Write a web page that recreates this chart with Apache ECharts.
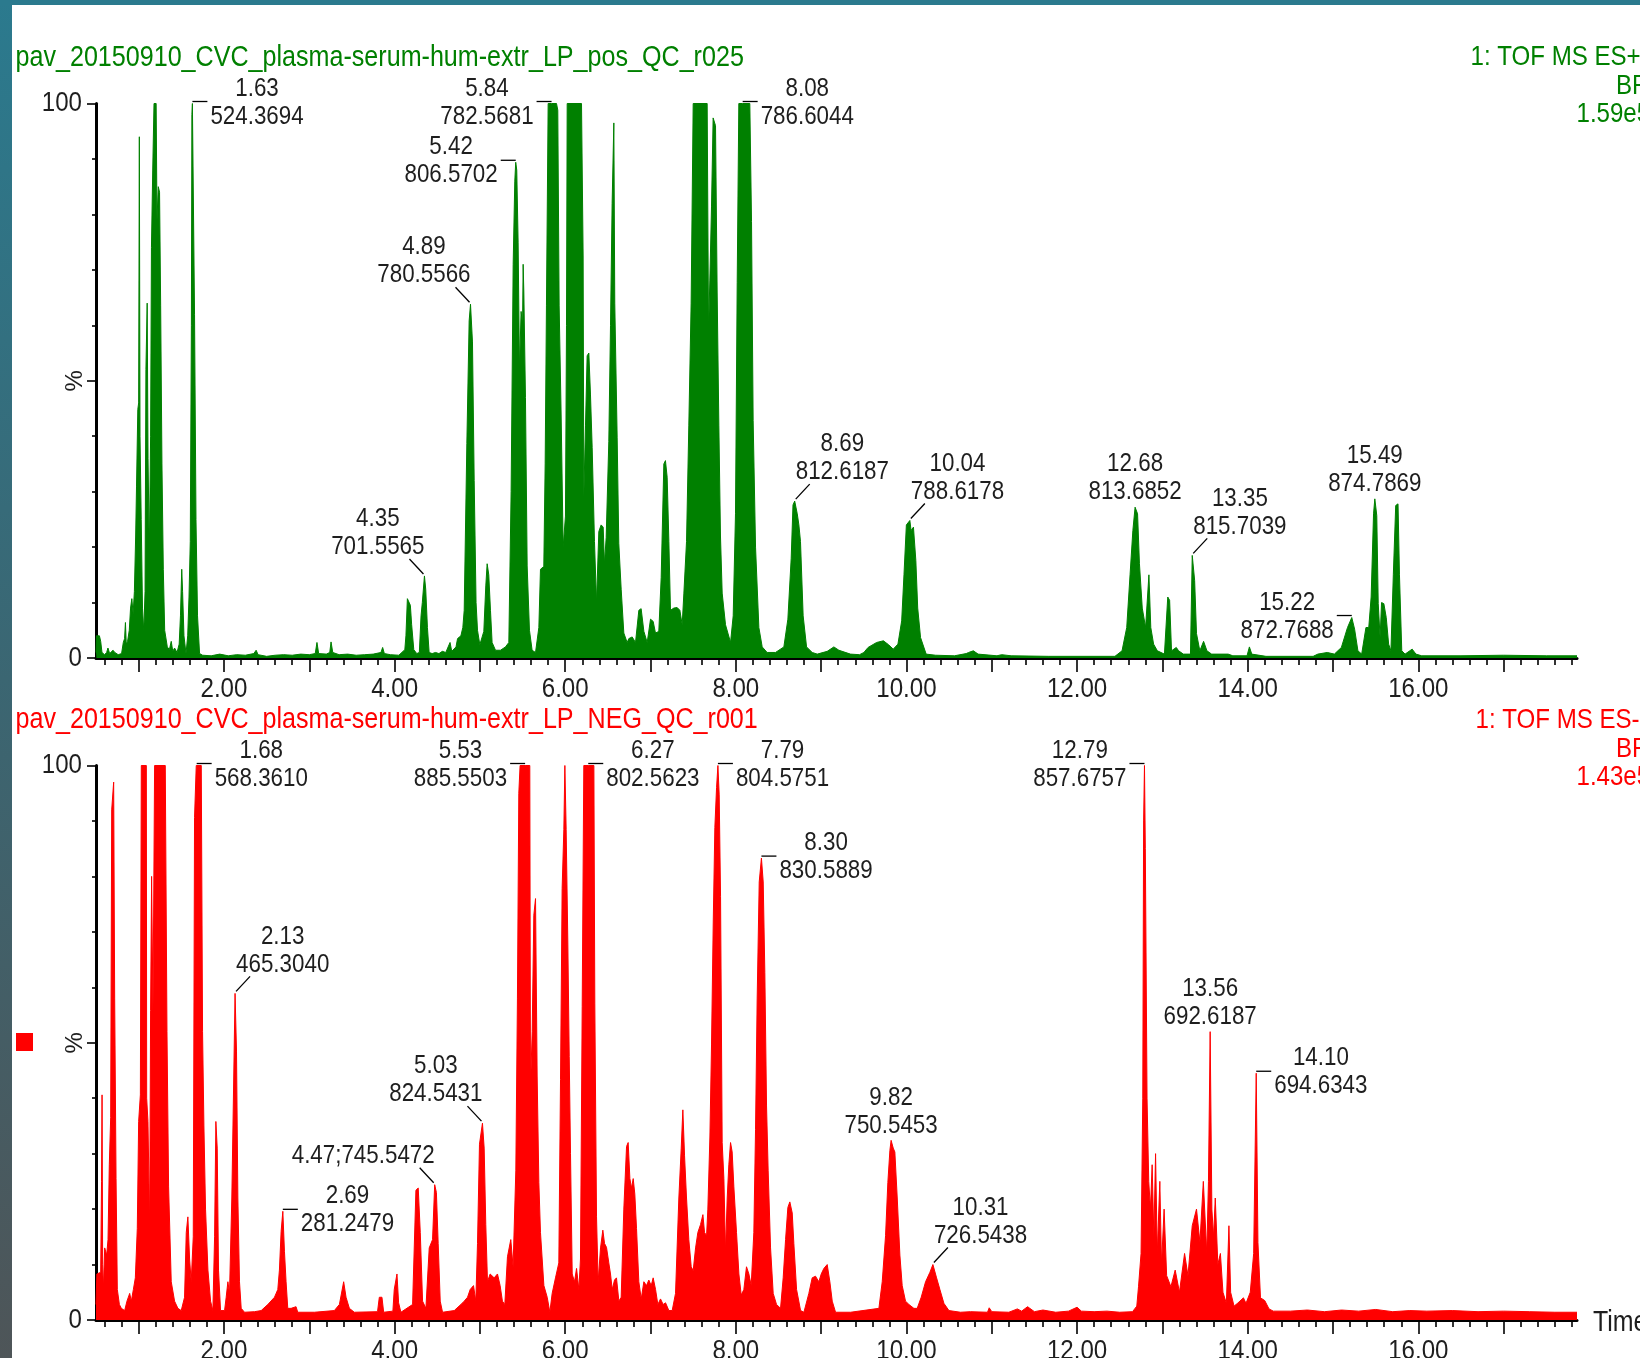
<!DOCTYPE html>
<html>
<head>
<meta charset="utf-8">
<script src="https://cdn.jsdelivr.net/npm/echarts@6/dist/echarts.min.js"></script>
<style>
  html, body { margin: 0; padding: 0; background: #fff; }
  #chart { width: 1640px; height: 1358px; }
</style>
</head>
<body>
<div id="chart"></div>
<script>
// ---- chromatogram data (retention time in min, relative intensity in %) ----
const posTitle = 'pav_20150910_CVC_plasma-serum-hum-extr_LP_pos_QC_r025';
const negTitle = 'pav_20150910_CVC_plasma-serum-hum-extr_LP_NEG_QC_r001';
const posHeader = ['1: TOF MS ES+', 'BPI', '1.59e5'];
const negHeader = ['1: TOF MS ES-', 'BPI', '1.43e5'];

const timeLabels = [2, 4, 6, 8, 10, 12, 14, 16];
const majorTicks = [1, 2, 3, 4, 5, 6, 7, 8, 9, 10, 11, 12, 13, 14, 15, 16, 17];
const intensityLabels = [0, 100];

const posTrace = [
  [0.50,1.0],[0.505,4.0],[0.54,4.0],[0.555,3.0],[0.57,1.0],[0.60,0.6],[0.625,1.0],[0.64,1.8],[0.66,0.8],[0.70,1.4],
  [0.72,1.0],[0.76,0.6],[0.80,0.8],[0.82,2.8],[0.835,3.5],[0.845,6.4],[0.855,2.5],[0.87,3.0],[0.89,5.0],[0.905,9.0],
  [0.92,10.7],[0.935,8.0],[0.95,12.0],[0.965,22.0],[0.975,31.0],[0.99,44.8],[1.0,46.0],[1.008,94.0],[1.016,40.0],[1.03,25.0],
  [1.045,9.0],[1.06,4.8],[1.075,12.0],[1.085,52.0],[1.10,64.0],[1.11,36.0],[1.125,19.0],[1.14,40.0],[1.15,74.0],[1.165,88.0],
  [1.18,100],[1.205,100],[1.215,79.0],[1.23,85.0],[1.245,84.0],[1.258,63.5],[1.273,35.0],[1.289,16.0],[1.305,5.0],[1.336,2.0],
  [1.36,1.5],[1.382,3.0],[1.40,1.2],[1.421,1.8],[1.45,1.0],[1.475,2.5],[1.49,7.6],[1.505,16.0],[1.515,12.0],[1.531,4.0],
  [1.555,0.8],[1.575,4.0],[1.59,11.0],[1.605,21.0],[1.618,60.0],[1.624,98.0],[1.63,100],[1.645,100],[1.655,62.0],[1.672,25.0],
  [1.69,7.6],[1.714,0.8],[1.75,0.5],[1.85,0.4],[1.95,0.7],[2.05,0.4],[2.15,0.6],[2.25,0.5],[2.35,0.8],[2.377,1.4],
  [2.40,0.6],[2.50,0.3],[2.60,0.5],[2.70,0.6],[2.80,0.5],[2.90,0.7],[3.00,0.6],[3.07,0.8],[3.09,2.8],[3.11,0.8],
  [3.20,0.7],[3.24,1.0],[3.255,2.9],[3.275,1.0],[3.35,0.6],[3.45,0.7],[3.55,0.5],[3.65,0.6],[3.75,0.7],[3.84,1.0],
  [3.86,1.9],[3.88,0.8],[3.95,0.6],[4.05,0.5],[4.12,1.5],[4.133,4.0],[4.15,10.7],[4.164,10.5],[4.185,9.5],[4.20,6.0],
  [4.225,1.5],[4.26,0.8],[4.29,1.0],[4.31,7.6],[4.325,10.0],[4.35,14.8],[4.365,12.4],[4.385,5.5],[4.405,1.0],[4.44,0.8],
  [4.48,1.0],[4.52,0.8],[4.56,1.2],[4.60,1.0],[4.65,2.8],[4.67,1.2],[4.72,2.0],[4.738,3.5],[4.777,4.0],[4.80,5.5],
  [4.816,8.6],[4.847,38.7],[4.874,60.8],[4.89,63.8],[4.913,57.0],[4.933,32.0],[4.955,10.0],[4.972,5.0],[4.999,2.4],[5.046,4.8],
  [5.069,13.0],[5.085,17.0],[5.104,15.0],[5.124,8.6],[5.143,2.8],[5.183,1.4],[5.241,1.4],[5.30,2.0],[5.339,2.8],[5.366,30.0],
  [5.39,71.0],[5.409,86.0],[5.42,89.4],[5.432,88.0],[5.448,75.0],[5.464,52.0],[5.483,62.5],[5.50,60.0],[5.507,71.0],[5.515,66.0],
  [5.534,47.0],[5.554,16.6],[5.581,5.0],[5.612,1.4],[5.652,1.0],[5.691,5.5],[5.71,16.0],[5.749,16.5],[5.765,35.0],[5.78,63.5],
  [5.80,100],[5.84,100],[5.898,100],[5.913,98.8],[5.929,63.5],[5.952,44.0],[5.976,20.0],[6.003,25.6],[6.015,60.0],[6.023,100],
  [6.191,100],[6.21,72.5],[6.218,29.0],[6.238,42.0],[6.257,54.5],[6.277,55.0],[6.296,47.6],[6.316,38.0],[6.343,21.0],[6.367,10.0],
  [6.394,22.8],[6.421,24.0],[6.445,23.6],[6.46,17.0],[6.48,21.7],[6.511,39.0],[6.531,60.0],[6.55,82.0],[6.57,96.5],[6.581,64.0],
  [6.609,39.7],[6.628,20.7],[6.656,12.4],[6.687,4.5],[6.726,2.8],[6.746,3.5],[6.785,3.8],[6.824,2.8],[6.863,8.6],[6.89,8.9],
  [6.922,4.8],[6.961,2.8],[7.0,7.0],[7.031,6.6],[7.058,4.5],[7.097,4.8],[7.125,14.5],[7.156,35.0],[7.175,35.6],[7.195,32.6],
  [7.215,21.0],[7.234,8.6],[7.273,9.0],[7.312,9.1],[7.344,8.6],[7.371,6.0],[7.391,11.7],[7.422,21.0],[7.449,42.0],[7.476,64.0],
  [7.50,100],[7.664,100],[7.68,58.7],[7.695,68.0],[7.715,81.5],[7.734,97.4],[7.762,96.0],[7.781,66.0],[7.801,42.0],[7.82,22.0],
  [7.84,11.7],[7.879,6.0],[7.938,2.8],[7.969,7.6],[7.996,26.0],[8.016,67.7],[8.035,100],[8.08,100],[8.164,100],[8.184,78.7],
  [8.203,42.8],[8.231,20.0],[8.27,5.5],[8.309,2.0],[8.367,1.0],[8.465,1.0],[8.563,2.0],[8.61,7.0],[8.649,18.0],[8.67,27.6],
  [8.69,28.3],[8.72,26.0],[8.739,24.0],[8.758,21.0],[8.789,7.6],[8.829,2.0],[8.895,1.0],[8.954,0.7],[9.071,1.2],[9.149,2.0],
  [9.208,1.4],[9.344,0.7],[9.45,0.6],[9.501,1.0],[9.55,1.9],[9.65,2.8],[9.73,3.1],[9.79,2.4],[9.845,1.6],[9.90,2.5],
  [9.944,6.7],[9.971,15.0],[9.999,24.0],[10.04,24.8],[10.054,23.0],[10.082,23.6],[10.11,17.6],[10.132,9.0],[10.165,3.7],[10.231,0.7],
  [10.342,0.5],[10.563,0.4],[10.70,0.8],[10.729,1.0],[10.784,1.3],[10.84,0.7],[11.061,0.4],[11.116,0.6],[11.227,0.4],[11.669,0.3],
  [12.444,0.3],[12.527,1.3],[12.582,5.5],[12.621,15.0],[12.654,23.0],[12.68,27.2],[12.709,26.0],[12.731,17.0],[12.764,9.0],[12.803,5.5],
  [12.842,15.0],[12.864,5.5],[12.897,2.5],[12.941,1.3],[13.024,0.7],[13.063,11.0],[13.085,10.4],[13.107,1.3],[13.163,1.9],[13.19,1.3],
  [13.246,0.7],[13.329,0.7],[13.35,18.5],[13.378,14.0],[13.40,4.4],[13.439,1.3],[13.483,3.0],[13.522,1.3],[13.577,0.7],[13.771,0.7],
  [13.788,1.0],[13.826,0.4],[13.992,0.4],[14.02,2.0],[14.048,0.7],[14.214,0.3],[14.767,0.3],[14.822,0.7],[14.933,1.0],[15.016,0.7],
  [15.098,1.9],[15.17,5.5],[15.22,7.3],[15.253,5.2],[15.292,1.3],[15.336,0.7],[15.386,5.5],[15.419,5.5],[15.447,11.0],[15.475,26.0],
  [15.49,28.7],[15.513,25.7],[15.53,9.8],[15.552,3.7],[15.569,10.0],[15.596,9.8],[15.624,7.3],[15.652,2.5],[15.679,1.3],[15.707,15.0],
  [15.735,27.5],[15.762,27.8],[15.779,15.0],[15.806,1.3],[15.845,0.7],[15.90,1.3],[15.928,1.6],[15.972,0.7],[16.04,0.4],[16.5,0.4],
  [17.0,0.5],[17.5,0.4],[17.86,0.4]
];

const negTrace = [
  [0.50,2.8],[0.51,8.3],[0.555,8.6],[0.565,25.0],[0.571,40.6],[0.578,10.0],[0.586,5.5],[0.602,13.0],[0.625,11.7],[0.641,14.5],
  [0.656,28.0],[0.672,36.5],[0.684,92.0],[0.695,92.3],[0.707,97.0],[0.719,57.9],[0.735,25.5],[0.75,5.5],[0.774,2.8],[0.797,2.1],
  [0.836,1.7],[0.863,3.4],[0.895,4.8],[0.914,3.4],[0.938,5.5],[0.961,7.6],[0.984,16.5],[1.0,35.8],[1.02,40.6],[1.031,100],
  [1.09,100],[1.094,40.0],[1.109,35.8],[1.129,16.9],[1.14,55.8],[1.152,80.0],[1.168,55.8],[1.187,100],[1.312,100],[1.332,52.0],
  [1.351,24.0],[1.382,6.9],[1.421,3.4],[1.46,2.1],[1.499,1.7],[1.538,4.1],[1.558,15.8],[1.577,18.6],[1.597,11.0],[1.616,6.9],
  [1.64,15.0],[1.655,90.6],[1.675,100],[1.68,100],[1.734,100],[1.749,52.0],[1.765,35.0],[1.784,20.0],[1.812,9.0],[1.843,3.4],
  [1.87,1.7],[1.89,15.0],[1.905,35.8],[1.921,31.0],[1.936,9.0],[1.96,1.7],[2.007,1.7],[2.026,4.1],[2.046,6.9],[2.065,4.8],
  [2.092,22.0],[2.112,41.3],[2.13,58.9],[2.147,48.5],[2.163,22.0],[2.182,6.9],[2.202,2.1],[2.241,1.4],[2.358,1.5],[2.436,1.7],
  [2.514,2.8],[2.592,4.1],[2.631,5.5],[2.65,9.0],[2.67,16.0],[2.69,19.6],[2.709,12.4],[2.728,6.9],[2.748,2.1],[2.787,2.1],
  [2.845,2.4],[2.865,1.4],[3.06,1.4],[3.294,1.7],[3.353,2.8],[3.403,6.9],[3.431,4.1],[3.47,2.1],[3.528,1.4],[3.80,1.5],
  [3.821,4.1],[3.852,4.1],[3.872,1.4],[3.98,1.6],[3.996,5.5],[4.028,8.3],[4.047,3.1],[4.074,1.4],[4.211,2.8],[4.25,23.4],
  [4.277,23.8],[4.301,15.8],[4.328,3.4],[4.367,2.1],[4.406,13.0],[4.445,14.5],[4.47,24.4],[4.49,23.0],[4.511,13.8],[4.535,3.4],
  [4.562,1.4],[4.699,1.7],[4.777,2.8],[4.816,3.4],[4.855,4.1],[4.886,5.5],[4.925,6.2],[4.952,3.4],[4.972,13.8],[4.995,31.7],
  [5.03,35.5],[5.05,31.0],[5.069,17.2],[5.089,6.9],[5.12,8.3],[5.167,7.6],[5.206,8.3],[5.237,6.2],[5.264,3.4],[5.292,2.8],
  [5.323,11.4],[5.362,14.5],[5.389,9.6],[5.421,26.9],[5.44,57.9],[5.456,95.0],[5.471,100],[5.53,100],[5.585,100],[5.593,42.0],
  [5.613,52.0],[5.632,73.0],[5.652,76.0],[5.671,44.0],[5.691,24.8],[5.71,15.8],[5.73,11.0],[5.75,6.2],[5.789,4.1],[5.82,1.4],
  [5.847,4.8],[5.886,7.6],[5.925,10.3],[5.945,43.4],[5.964,77.8],[5.984,88.5],[5.996,100],[6.011,88.5],[6.031,67.8],[6.047,47.5],
  [6.062,30.0],[6.082,8.3],[6.109,6.9],[6.133,9.3],[6.16,5.5],[6.179,11.0],[6.199,56.5],[6.218,100],[6.27,100],[6.336,100],
  [6.347,57.0],[6.367,18.6],[6.386,6.9],[6.414,13.0],[6.441,16.2],[6.461,13.8],[6.484,13.1],[6.511,10.3],[6.531,8.3],[6.551,5.5],
  [6.578,7.2],[6.601,7.6],[6.629,3.4],[6.656,4.1],[6.687,20.0],[6.719,31.3],[6.738,32.0],[6.758,25.5],[6.777,23.8],[6.797,25.5],
  [6.816,22.7],[6.836,16.5],[6.863,6.9],[6.891,3.8],[6.922,6.9],[6.953,6.2],[6.98,7.2],[7.008,6.2],[7.031,7.6],[7.059,5.5],
  [7.086,2.8],[7.117,3.8],[7.148,2.8],[7.176,3.1],[7.215,1.7],[7.254,1.7],[7.293,4.8],[7.332,22.0],[7.36,31.0],[7.379,37.9],
  [7.399,29.6],[7.422,22.0],[7.449,14.5],[7.477,9.6],[7.50,8.9],[7.528,13.0],[7.555,15.8],[7.586,17.2],[7.614,19.0],[7.633,15.8],
  [7.657,15.2],[7.672,20.0],[7.696,33.0],[7.715,49.6],[7.735,71.6],[7.754,88.8],[7.774,96.0],[7.79,100],[7.805,94.7],[7.821,76.4],
  [7.84,32.0],[7.86,25.5],[7.879,12.4],[7.899,22.0],[7.918,28.0],[7.938,32.0],[7.957,30.3],[7.977,24.0],[8.008,15.8],[8.036,8.3],
  [8.063,4.5],[8.094,5.5],[8.125,9.6],[8.153,8.3],[8.18,6.2],[8.211,15.8],[8.231,34.4],[8.25,57.9],[8.274,79.0],[8.30,83.3],
  [8.321,79.0],[8.34,62.7],[8.36,38.6],[8.379,26.9],[8.407,13.0],[8.438,4.8],[8.477,2.8],[8.524,2.1],[8.555,7.6],[8.583,14.5],
  [8.61,20.3],[8.633,21.3],[8.661,19.3],[8.68,13.8],[8.712,5.5],[8.759,1.7],[8.798,1.4],[8.856,4.8],[8.895,7.6],[8.934,7.9],
  [8.973,6.9],[9.001,8.3],[9.032,9.3],[9.071,10.0],[9.102,6.9],[9.13,3.4],[9.169,1.4],[9.345,1.4],[9.677,2.1],[9.716,6.9],
  [9.755,15.2],[9.782,24.8],[9.806,30.6],[9.82,32.4],[9.845,31.0],[9.864,30.3],[9.892,22.0],[9.923,11.7],[9.95,6.2],[9.989,3.4],
  [10.029,2.8],[10.087,2.1],[10.126,2.1],[10.173,4.1],[10.224,6.9],[10.275,8.6],[10.31,10.0],[10.353,7.6],[10.392,5.5],[10.439,3.0],
  [10.498,1.7],[10.634,1.4],[10.75,1.5],[10.95,1.4],[10.97,2.2],[11.0,1.5],[11.2,1.4],[11.3,2.0],[11.35,1.6],[11.42,2.4],
  [11.5,1.5],[11.6,1.8],[11.75,1.4],[11.9,1.6],[12.0,2.3],[12.05,1.6],[12.2,1.5],[12.35,1.6],[12.5,1.4],[12.65,1.5],
  [12.70,2.5],[12.72,6.0],[12.75,12.0],[12.77,40.0],[12.78,90.0],[12.79,100],[12.80,85.0],[12.82,40.0],[12.84,25.0],[12.86,20.0],
  [12.88,28.0],[12.90,15.0],[12.92,30.0],[12.94,12.0],[12.97,25.0],[12.99,10.0],[13.02,20.0],[13.05,8.0],[13.10,6.0],[13.15,9.0],
  [13.20,5.0],[13.26,12.0],[13.30,8.0],[13.35,17.0],[13.40,20.0],[13.44,14.0],[13.48,25.0],[13.52,12.0],[13.54,25.0],[13.56,52.0],
  [13.58,20.0],[13.60,15.0],[13.62,22.0],[13.65,10.0],[13.68,12.0],[13.71,5.0],[13.75,3.0],[13.78,17.0],[13.80,5.0],[13.84,2.5],
  [13.88,3.0],[13.95,4.0],[13.98,3.0],[14.03,5.0],[14.07,12.0],[14.10,44.5],[14.12,14.0],[14.15,4.0],[14.20,3.5],[14.25,2.0],
  [14.3,1.6],[14.5,1.6],[14.7,1.8],[14.9,1.5],[15.1,1.8],[15.3,1.6],[15.5,1.9],[15.7,1.5],[15.9,1.7],[16.1,1.6],
  [16.4,1.7],[16.7,1.5],[17.0,1.6],[17.3,1.5],[17.6,1.4],[17.86,1.4]
];

// annotated peaks: retention time and base-peak m/z
const posPeakRt = [1.63, 4.35, 4.89, 5.42, 5.84, 8.08, 8.69, 10.04, 12.68, 13.35, 15.22, 15.49];
const posPeakMz = ['524.3694', '701.5565', '780.5566', '806.5702', '782.5681', '786.6044',
                   '812.6187', '788.6178', '813.6852', '815.7039', '872.7688', '874.7869'];
const negPeakRt = [1.68, 2.13, 2.69, 4.47, 5.03, 5.53, 6.27, 7.79, 8.30, 9.82, 10.31, 12.79, 13.56, 14.10];
const negPeakMz = ['568.3610', '465.3040', '281.2479', '745.5472', '824.5431', '885.5503', '802.5623',
                   '804.5751', '830.5889', '750.5453', '726.5438', '857.6757', '692.6187', '694.6343'];

// where each annotation sits relative to its peak apex
const posPeakPlace = ['right', 'upleft', 'upleft', 'left', 'left', 'right', 'upright', 'upright', 'above', 'upright', 'left', 'above'];
const negPeakPlace = ['right', 'upright', 'right', 'inline', 'upleft', 'left', 'right', 'right', 'right', 'above', 'upright', 'left', 'above', 'right'];

// ---- styling ----
const FONT = '"Liberation Sans", Arial, Helvetica, sans-serif';
const SX = 0.86;               // horizontally condensed lettering
const INK = '#1e1e1e';
const POS_COLOR = '#008000';
const NEG_COLOR = '#ff0000';
const X_MIN = 0.5, X_MAX = 17.86;

const minorTicks = [];
for (let k = 3; k <= 89; k++) {
  const v = k * 0.2;
  if (Math.abs(v - Math.round(v)) > 1e-6) minorTicks.push(+v.toFixed(1));
}

const measureCtx = document.createElement('canvas').getContext('2d');
function textWidth(str, size) {
  measureCtx.font = size + 'px ' + FONT;
  return measureCtx.measureText(str).width * SX;
}

function txt(x, y, str, size, color, align, extra) {
  return Object.assign({
    type: 'text', x: x, y: y, scaleX: SX, silent: true,
    style: {
      text: str, fill: color, fontSize: size, fontFamily: FONT,
      align: align || 'center', verticalAlign: 'middle',
      textAlign: align || 'center', textVerticalAlign: 'middle'
    }
  }, extra || {});
}

function heightAt(trace, rt) {
  for (const p of trace) if (Math.abs(p[0] - rt) < 1e-9) return p[1];
  let best = 0;
  for (const p of trace) if (Math.abs(p[0] - rt) < 0.01) best = Math.max(best, p[1]);
  return best;
}

const LBL_SIZE = 26;
function peakLabelSeries(g, trace, rts, mzs, places) {
  return {
    type: 'custom', xAxisIndex: 2 * g, yAxisIndex: g, silent: true, clip: false, z: 10,
    animation: false,
    data: rts.map((rt, i) => [rt, heightAt(trace, rt), i]),
    renderItem(params, api) {
      const i = api.value(2);
      const p = api.coord([api.value(0), api.value(1)]);
      const rt = rts[i].toFixed(2), mz = mzs[i], place = places[i];
      const kids = [];
      const seg = (x1, y1, x2, y2) => kids.push({
        type: 'line', silent: true, shape: { x1, y1, x2, y2 },
        style: { stroke: '#000', lineWidth: 1.3 }
      });
      const w = Math.max(textWidth(rt, LBL_SIZE), textWidth(mz, LBL_SIZE));
      let cx, y1, y2;
      if (place === 'above') {
        cx = p[0]; y2 = p[1] - 15; y1 = y2 - 28;
      } else if (place === 'right') {
        seg(p[0], p[1] - 2, p[0] + 15, p[1] - 2);
        cx = p[0] + 18 + w / 2; y1 = p[1] - 15; y2 = p[1] + 13;
      } else if (place === 'left') {
        seg(p[0] - 15, p[1] - 2, p[0], p[1] - 2);
        cx = p[0] - 18 - w / 2; y1 = p[1] - 15; y2 = p[1] + 13;
      } else if (place === 'upright') {
        seg(p[0] + 1, p[1] - 2, p[0] + 15, p[1] - 17);
        cx = p[0] + 1 + w / 2; y2 = p[1] - 29; y1 = y2 - 28;
      } else if (place === 'upleft') {
        seg(p[0] - 1, p[1] - 2, p[0] - 15, p[1] - 17);
        cx = p[0] - w / 2; y2 = p[1] - 29; y1 = y2 - 28;
      } else { // single-line annotation, up and to the left
        seg(p[0] - 1, p[1] - 2, p[0] - 15, p[1] - 17);
        kids.push(txt(p[0], p[1] - 29, rt + ';' + mz, LBL_SIZE, INK, 'right'));
        return { type: 'group', children: kids };
      }
      kids.push(txt(cx, y1, rt, LBL_SIZE, INK, 'center'));
      kids.push(txt(cx, y2, mz, LBL_SIZE, INK, 'center'));
      return { type: 'group', children: kids };
    }
  };
}

function axisTextSeries(g) {
  return [{
    type: 'custom', xAxisIndex: 2 * g, yAxisIndex: g, silent: true, clip: false, animation: false,
    data: timeLabels.map(v => [v, 0]),
    renderItem(params, api) {
      const p = api.coord([api.value(0), 0]);
      return txt(p[0], p[1] + 31, api.value(0).toFixed(2), 28, INK, 'center');
    }
  }, {
    type: 'custom', xAxisIndex: 2 * g, yAxisIndex: g, silent: true, clip: false, animation: false,
    data: intensityLabels.map(v => [X_MIN, v]),
    renderItem(params, api) {
      const p = api.coord([X_MIN, api.value(1)]);
      return txt(p[0] - 14, p[1], String(api.value(1)), 28, INK, 'right');
    }
  }];
}

const grids = [
  { left: 96, right: 63, top: 103.5, height: 554.5 },
  { left: 96, right: 63, top: 765.5, height: 554.5 }
];

const xAxes = [];
const yAxes = [];
[0, 1].forEach(g => {
  xAxes.push({
    type: 'value', gridIndex: g, min: X_MIN, max: X_MAX,
    axisLine: { show: true, onZero: false, lineStyle: { color: '#000', width: 3 } },
    axisTick: { show: true, customValues: majorTicks, length: 14, lineStyle: { color: '#000', width: 1.6 } },
    axisLabel: { show: false }, splitLine: { show: false }
  });
  xAxes.push({
    type: 'value', gridIndex: g, min: X_MIN, max: X_MAX, position: 'bottom',
    axisLine: { show: false },
    axisTick: { show: true, customValues: minorTicks, length: 7, lineStyle: { color: '#000', width: 1.6 } },
    axisLabel: { show: false }, splitLine: { show: false }
  });
  yAxes.push({
    type: 'value', gridIndex: g, min: 0, max: 100, interval: 50,
    axisLine: { show: true, lineStyle: { color: '#000', width: 3 } },
    axisTick: { show: true, length: 9, lineStyle: { color: '#000', width: 1.6 } },
    minorTick: { show: true, splitNumber: 5, length: 4, lineStyle: { color: '#000', width: 1.6 } },
    axisLabel: { show: false }, splitLine: { show: false }, minorSplitLine: { show: false },
    name: '%', nameLocation: 'middle', nameRotate: 90, nameGap: 9,
    nameTextStyle: { color: INK, fontSize: 24, fontFamily: FONT }
  });
});

function traceSeries(g, data, color) {
  return {
    type: 'line', xAxisIndex: 2 * g, yAxisIndex: g, data: data,
    showSymbol: false, symbol: 'none', animation: false, silent: true, z: 3,
    lineStyle: { color: color, width: 1 },
    areaStyle: { color: color, opacity: 1 }
  };
}

// acquisition header, upper right of each trace
const headerLeft = [1470.5, 1616, 1576.5];
function header(lines, y0, color, shift) {
  return lines.map((s, k) => txt(headerLeft[k] + (k === 0 ? shift : 0), y0 + k * 28.3, s, 28, color, 'left'));
}

const option = {
  backgroundColor: '#ffffff',
  animation: false,
  grid: grids,
  xAxis: xAxes,
  yAxis: yAxes,
  graphic: [
    { type: 'rect', silent: true, shape: { x: 0, y: 0, width: 12, height: 1358 },
      style: { fill: new echarts.graphic.LinearGradient(0, 0, 0, 1, [
        { offset: 0, color: '#2b7a8e' }, { offset: 0.5, color: '#3b6672' }, { offset: 1, color: '#4e5558' }]) } },
    { type: 'rect', silent: true, shape: { x: 0, y: 0, width: 1640, height: 5 }, style: { fill: '#2b7a8e' } },
    txt(15.5, 57.5, posTitle, 29.2, POS_COLOR, 'left'),
    txt(15.5, 719.5, negTitle, 29.2, NEG_COLOR, 'left'),
    ...header(posHeader, 57.5, POS_COLOR, 0),
    ...header(negHeader, 720.5, NEG_COLOR, 5),
    txt(1593, 1323, 'Time', 29, INK, 'left'),
    { type: 'rect', silent: true, shape: { x: 16, y: 1033, width: 17, height: 18 }, style: { fill: NEG_COLOR } }
  ],
  series: [
    traceSeries(0, posTrace, POS_COLOR),
    traceSeries(1, negTrace, NEG_COLOR),
    peakLabelSeries(0, posTrace, posPeakRt, posPeakMz, posPeakPlace),
    peakLabelSeries(1, negTrace, negPeakRt, negPeakMz, negPeakPlace),
    ...axisTextSeries(0),
    ...axisTextSeries(1)
  ]
};

const chart = echarts.init(document.getElementById('chart'), null, { renderer: 'canvas', width: 1640, height: 1358 });
chart.setOption(option);
</script>
</body>
</html>
